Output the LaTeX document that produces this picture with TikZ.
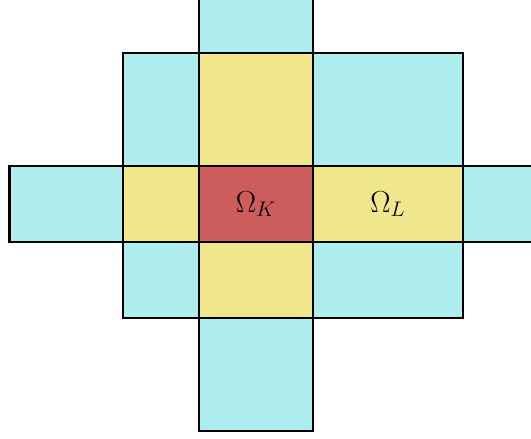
\documentclass[tikz,border=0pt]{standalone}
\usepackage{amsmath,amssymb}
\definecolor{paleturq}{RGB}{175,238,238}
\definecolor{khakicell}{RGB}{240,230,140}
\definecolor{indianred}{RGB}{205,92,92}

\begin{document}
\begin{tikzpicture}[
        x=0.02cm,y=-0.02cm,
        outer/.style={fill=paleturq,draw=black,line width=1.4pt},
        near/.style={fill=khakicell,draw=black,line width=1.4pt},
        self/.style={fill=indianred,draw=black,line width=1.4pt},
        lbl/.style={font=\LARGE,inner sep=0pt}
      ]
      \useasboundingbox (0,0) rectangle (531,439);
      \clip (0,0) rectangle (531,439);
      % outer ring of cells
      \filldraw[outer] (199,-61) rectangle (313,53);
      \filldraw[outer] (123,53) rectangle (199,166);
      \filldraw[outer] (313,53) rectangle (463,166);
      \filldraw[outer] (9.5,166) rectangle (123,242);
      \filldraw[outer] (463,166) rectangle (577,242);
      \filldraw[outer] (123,242) rectangle (199,318);
      \filldraw[outer] (313,242) rectangle (463,318);
      \filldraw[outer] (199,318) rectangle (313,431);
      % neighbours
      \filldraw[near] (199,53) rectangle (313,166);
      \filldraw[near] (123,166) rectangle (199,242);
      \filldraw[near] (313,166) rectangle (463,242);
      \filldraw[near] (199,242) rectangle (313,318);
      % the cell itself
      \filldraw[self] (199,166) rectangle (313,242);
      \node (K) [lbl] at (256,204) {$\Omega_K$};
      \node (L) [lbl] at (388,204) {$\Omega_L$};
    \end{tikzpicture}
\end{document}
